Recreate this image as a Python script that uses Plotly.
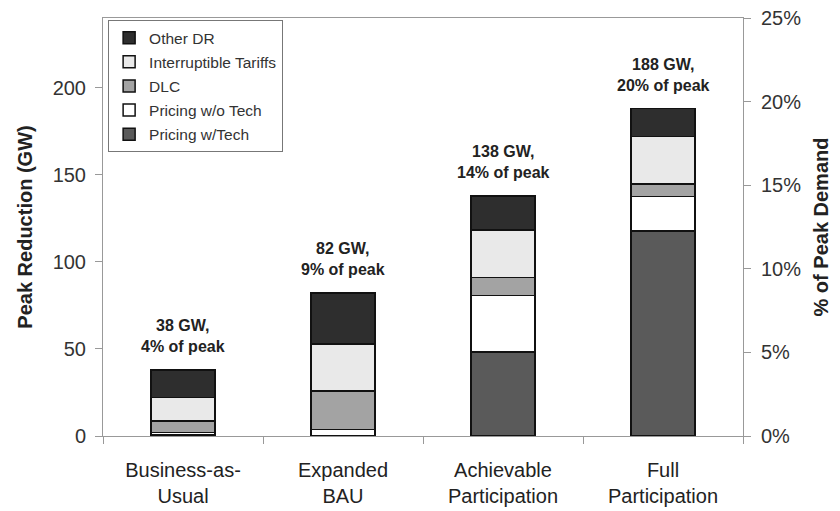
import plotly.graph_objects as go

categories = ["Business-as-<br>Usual", "Expanded<br>BAU", "Achievable<br>Participation", "Full<br>Participation"]
pricing_w_tech = [1.0, 0.3, 48.3, 117.7]
pricing_wo_tech = [1.0, 3.3, 32.3, 19.8]
dlc = [6.6, 22.2, 10.5, 7.3]
interruptible = [13.6, 27.1, 27.1, 27.1]
other_dr = [15.8, 29.1, 19.7, 16.1]
totals_gw = [38, 82, 138, 188]
pct_of_peak = [4, 9, 14, 20]

series = [
    ("Pricing w/Tech", pricing_w_tech, "#5a5a5a"),
    ("Pricing w/o Tech", pricing_wo_tech, "#ffffff"),
    ("DLC", dlc, "#a3a3a3"),
    ("Interruptible Tariffs", interruptible, "#e9e9e9"),
    ("Other DR", other_dr, "#2e2e2e"),
]

FONT = "Liberation Sans, Arial, sans-serif"

fig = go.Figure()
n = len(series)
for i, (name, vals, col) in enumerate(series):
    fig.add_trace(go.Bar(
        name=name, x=categories, y=vals, legendgroup=f"g{i}", legendrank=n - i,
        marker=dict(color=col, line=dict(color="#111111", width=1.5)),
        hoverinfo="skip",
    ))

# invisible trace to carry the secondary (percent) axis
fig.add_trace(go.Scatter(
    x=categories, y=pct_of_peak, yaxis="y2", mode="markers",
    marker=dict(opacity=0), showlegend=False, hoverinfo="skip",
))

for c, t, p in zip(categories, totals_gw, pct_of_peak):
    fig.add_annotation(
        x=c, y=t, xref="x", yref="y", text=f"<b>{t} GW,<br>{p}% of peak</b>",
        showarrow=False, yanchor="bottom", yshift=13,
        font=dict(family=FONT, size=16, color="#222222"),
    )

# page body adds an 8px offset; figure is sized to fill the rest of the window
fig.update_layout(
    barmode="stack",
    bargap=0.6,
    width=832, height=503,
    margin=dict(l=95, r=97, t=10, b=75),
    paper_bgcolor="white", plot_bgcolor="white",
    font=dict(family=FONT, color="#333333"),
    showlegend=True,
    legend=dict(
        x=0.008, y=0.995, xanchor="left", yanchor="top",
        traceorder="grouped", tracegroupgap=1,
        bgcolor="white", bordercolor="#777777", borderwidth=1,
        font=dict(family=FONT, size=15.5, color="#333333"),
        itemwidth=30,
    ),
    xaxis=dict(
        automargin=False,
        showline=True, linecolor="#999999", linewidth=1, mirror=True,
        ticks="outside", tickson="boundaries", ticklen=7, tickcolor="#999999",
        tickfont=dict(family=FONT, size=20, color="#222222"),
        ticklabelstandoff=16,
        showgrid=False,
    ),
    yaxis=dict(
        automargin=False, ticklabeloverflow="allow",
        range=[0, 240], tickvals=[0, 50, 100, 150, 200],
        showline=True, linecolor="#999999", linewidth=1,
        ticks="outside", ticklen=7, tickcolor="#999999",
        tickfont=dict(family=FONT, size=20, color="#333333"),
        ticklabelstandoff=5,
        showgrid=False, zeroline=False,
        title=dict(text="<b>Peak Reduction (GW)</b>", font=dict(family=FONT, size=20, color="#222222"), standoff=14),
    ),
    yaxis2=dict(
        automargin=False, ticklabeloverflow="allow",
        overlaying="y", side="right", range=[0, 25], dtick=5, ticksuffix="%",
        showline=True, linecolor="#999999", linewidth=1,
        ticks="outside", ticklen=7, tickcolor="#999999",
        tickfont=dict(family=FONT, size=20, color="#333333"),
        ticklabelstandoff=6,
        showgrid=False, zeroline=False,
        title=dict(text="<b>% of Peak Demand</b>", font=dict(family=FONT, size=20, color="#222222"), standoff=13),
    ),
)

fig.write_html("out.html")
